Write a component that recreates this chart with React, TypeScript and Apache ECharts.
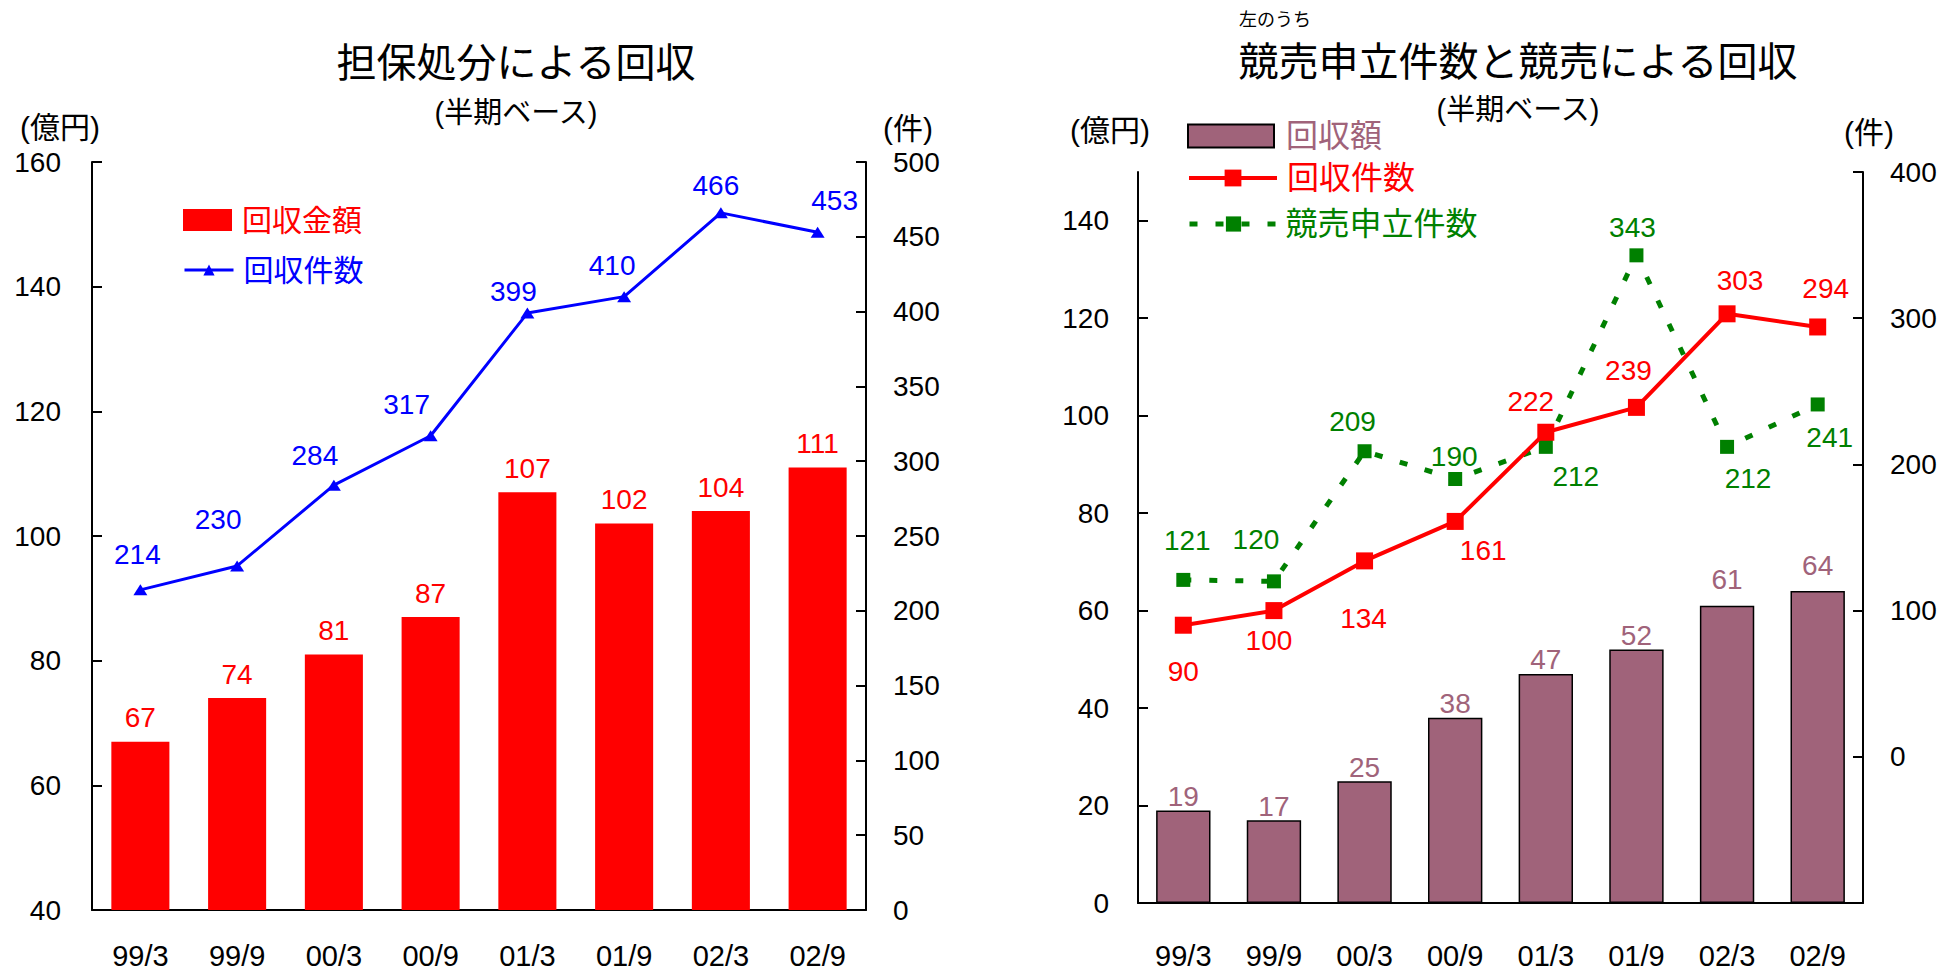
import React, { useEffect, useRef } from "react";
import * as echarts from "echarts";

// ---------- data ----------
const categories = ["99/3", "99/9", "00/3", "00/9", "01/3", "01/9", "02/3", "02/9"];

// Left chart: 担保処分による回収
const collateralAmount = [67, 74, 81, 87, 107, 102, 104, 111]; // 億円
const collateralCount = [214, 230, 284, 317, 399, 410, 466, 453]; // 件
const leftAmountTicks = [40, 60, 80, 100, 120, 140, 160];
const leftCountTicks = [0, 50, 100, 150, 200, 250, 300, 350, 400, 450, 500];

// Right chart: 競売申立件数と競売による回収
const auctionAmount = [19, 17, 25, 38, 47, 52, 61, 64]; // 億円
const auctionRecoveryCount = [90, 100, 134, 161, 222, 239, 303, 294]; // 件
const auctionFilingCount = [121, 120, 209, 190, 212, 343, 212, 241]; // 件
const rightAmountTicks = [0, 20, 40, 60, 80, 100, 120, 140];
const rightAmountMax = 150;
const rightCountTicks = [0, 100, 200, 300, 400];
const rightCountMin = -100;

// ---------- label placement (layout only) ----------
const collateralCountLabelOffsets = [[-3, -35], [-19, -46], [-19, -30], [-24, -31], [-14, -22], [-12, -31], [-5, -27], [17, -32]];
const recoveryCountLabelOffsets = [[0, 46], [-5, 30], [-1, 58], [28, 29], [-15, -31], [-8, -37], [13, -33], [8, -38]];
const filingCountLabelOffsets = [[4, -39], [-18, -42], [-12, -30], [-1, -23], [30, 30], [-4, -28], [21, 32], [12, 33]];
const auctionAmountLabelOffsets = [[0, 0], [0, 0], [0, 0], [0, 0], [0, 0], [0, 0], [0, -12], [0, -12]];

const FONT = '"Liberation Sans", Arial, "Noto Sans CJK JP", sans-serif';
const BLACK = "#000000";
const MAUVE = "#A0637A";

const axisLineStyle = { color: BLACK, width: 2 };

function txt(text: string, x: number, y: number, size: number, align = "center", color = BLACK) {
  return {
    type: "text",
    x,
    y,
    style: {
      text,
      fill: color,
      fontSize: size,
      fontFamily: FONT,
      align,
      verticalAlign: "middle",
    },
  };
}

function leftOption(): any {
  return {
    animation: false,
    textStyle: { fontFamily: FONT },
    grid: { left: 92, top: 162, width: 774, height: 748 },
    graphic: [
      txt("担保処分による回収", 516, 63, 40),
      txt("(半期ベース)", 516, 113, 29),
      txt("(億円)", 60, 127, 30),
      txt("(件)", 908, 128, 30),
    ],
    legend: [
      {
        data: ["回収金額"],
        left: 183,
        top: 205,
        padding: 0,
        icon: "rect",
        itemWidth: 49,
        itemHeight: 22,
        textStyle: { color: "#FF0000", fontSize: 30, padding: [0, 0, 0, 5] },
      },
      {
        data: ["回収件数"],
        left: 183,
        top: 255,
        padding: 0,
        itemWidth: 49,
        itemHeight: 14,
        lineStyle: { width: 3 },
        textStyle: { color: "#0000FF", fontSize: 30, padding: [0, 0, 0, 5] },
      },
    ],
    xAxis: {
      type: "category",
      data: categories,
      axisLine: { onZero: false, lineStyle: axisLineStyle },
      axisTick: { inside: true, length: 10, interval: 0, lineStyle: axisLineStyle },
      axisLabel: { color: BLACK, fontSize: 29, margin: 31, interval: 0 },
    },
    yAxis: [
      {
        type: "value",
        position: "left",
        min: leftAmountTicks[0],
        max: leftAmountTicks[leftAmountTicks.length - 1],
        interval: leftAmountTicks[1] - leftAmountTicks[0],
        axisLine: { show: true, onZero: false, lineStyle: axisLineStyle },
        axisTick: { show: true, inside: true, length: 10, lineStyle: axisLineStyle },
        axisLabel: { color: BLACK, fontSize: 28, margin: 31 },
        splitLine: { show: false },
      },
      {
        type: "value",
        position: "right",
        min: leftCountTicks[0],
        max: leftCountTicks[leftCountTicks.length - 1],
        interval: leftCountTicks[1] - leftCountTicks[0],
        axisLine: { show: true, onZero: false, lineStyle: axisLineStyle },
        axisTick: { show: true, inside: true, length: 10, lineStyle: axisLineStyle },
        axisLabel: { color: BLACK, fontSize: 28, margin: 27 },
        splitLine: { show: false },
      },
    ],
    series: [
      {
        name: "回収金額",
        type: "bar",
        yAxisIndex: 0,
        data: collateralAmount,
        barWidth: "60%",
        itemStyle: { color: "#FF0000" },
        label: { show: true, position: "top", distance: 10, color: "#FF0000", fontSize: 28 },
      },
      {
        name: "回収件数",
        type: "line",
        yAxisIndex: 1,
        data: collateralCount.map((v, i) => ({ value: v, label: { offset: collateralCountLabelOffsets[i] } })),
        symbol: "triangle",
        symbolSize: [14, 11],
        lineStyle: { color: "#0000FF", width: 3 },
        itemStyle: { color: "#0000FF" },
        label: { show: true, position: "inside", color: "#0000FF", fontSize: 28 },
        z: 3,
      },
    ],
  };
}

const X0 = 971;

function rightOption(): any {
  return {
    animation: false,
    textStyle: { fontFamily: FONT },
    grid: { left: 1138 - X0, top: 172, width: 725, height: 733 },
    graphic: [
      txt("左のうち", 1239 - X0, 20, 18, "left"),
      txt("競売申立件数と競売による回収", 1518 - X0, 62, 40),
      txt("(半期ベース)", 1518 - X0, 110, 29),
      txt("(億円)", 1110 - X0, 130, 30),
      txt("(件)", 1869 - X0, 132, 30),
    ],
    legend: [
      {
        data: ["回収額"],
        left: 1187 - X0,
        top: 120,
        padding: 0,
        icon: "rect",
        itemWidth: 86,
        itemHeight: 23,
        textStyle: { color: MAUVE, fontSize: 32, padding: [0, 0, 0, 7] },
      },
      {
        data: ["回収件数"],
        left: 1187 - X0,
        top: 162,
        padding: 0,
        itemWidth: 88,
        itemHeight: 21,
        lineStyle: { width: 4 },
        textStyle: { color: "#FF0000", fontSize: 32, padding: [0, 0, 0, 5] },
      },
      {
        data: ["競売申立件数"],
        left: 1187 - X0,
        top: 208,
        padding: 0,
        itemWidth: 88,
        itemHeight: 19,
        lineStyle: { width: 5, type: [8, 18] },
        textStyle: { color: "#008000", fontSize: 32, padding: [0, 0, 0, 3] },
      },
    ],
    xAxis: {
      type: "category",
      data: categories,
      axisLine: { onZero: false, lineStyle: axisLineStyle },
      axisTick: { inside: true, length: 10, interval: 0, lineStyle: axisLineStyle },
      axisLabel: { color: BLACK, fontSize: 29, margin: 38, interval: 0 },
    },
    yAxis: [
      {
        type: "value",
        position: "left",
        min: rightAmountTicks[0],
        max: rightAmountMax,
        interval: rightAmountTicks[1] - rightAmountTicks[0],
        axisLine: { show: true, onZero: false, lineStyle: axisLineStyle },
        axisTick: { show: true, inside: true, length: 10, lineStyle: axisLineStyle, customValues: rightAmountTicks },
        axisLabel: { color: BLACK, fontSize: 28, margin: 29, customValues: rightAmountTicks },
        splitLine: { show: false },
      },
      {
        type: "value",
        position: "right",
        min: rightCountMin,
        max: rightCountTicks[rightCountTicks.length - 1],
        interval: rightCountTicks[1] - rightCountTicks[0],
        axisLine: { show: true, onZero: false, lineStyle: axisLineStyle },
        axisTick: { show: true, inside: true, length: 10, lineStyle: axisLineStyle, customValues: rightCountTicks },
        axisLabel: { color: BLACK, fontSize: 28, margin: 27, customValues: rightCountTicks },
        splitLine: { show: false },
      },
    ],
    series: [
      {
        name: "回収額",
        type: "bar",
        yAxisIndex: 0,
        data: auctionAmount.map((v, i) => ({ value: v, label: { offset: auctionAmountLabelOffsets[i] } })),
        barWidth: "60%",
        itemStyle: { color: MAUVE, borderColor: BLACK, borderWidth: 1.5 },
        label: { show: true, position: "top", distance: 0, color: MAUVE, fontSize: 28 },
      },
      {
        name: "競売申立件数",
        type: "line",
        yAxisIndex: 1,
        data: auctionFilingCount.map((v, i) => ({ value: v, label: { offset: filingCountLabelOffsets[i] } })),
        symbol: "rect",
        symbolSize: 14,
        lineStyle: { color: "#008000", width: 5, type: [8, 18] },
        itemStyle: { color: "#008000" },
        label: { show: true, position: "inside", color: "#008000", fontSize: 28 },
        z: 3,
      },
      {
        name: "回収件数",
        type: "line",
        yAxisIndex: 1,
        data: auctionRecoveryCount.map((v, i) => ({ value: v, label: { offset: recoveryCountLabelOffsets[i] } })),
        symbol: "rect",
        symbolSize: 17,
        lineStyle: { color: "#FF0000", width: 4 },
        itemStyle: { color: "#FF0000" },
        label: { show: true, position: "inside", color: "#FF0000", fontSize: 28 },
        z: 4,
      },
    ],
  };
}

function ChartBox({ left, width, option }: { left: number; width: number; option: () => any }) {
  const ref = useRef<HTMLDivElement>(null);
  useEffect(() => {
    if (!ref.current) return;
    const chart = echarts.init(ref.current, undefined, { renderer: "svg" });
    chart.setOption(option());
    return () => chart.dispose();
  }, []);
  return (
    <div
      ref={ref}
      style={{ position: "absolute", left, top: 0, width, height: 970, background: "#ffffff" }}
    />
  );
}

export default function App() {
  return (
    <div style={{ position: "absolute", left: 0, top: 0, width: 1943, height: 970, background: "#ffffff", overflow: "hidden" }}>
      <ChartBox left={0} width={X0} option={leftOption} />
      <ChartBox left={X0} width={1943 - X0} option={rightOption} />
    </div>
  );
}
